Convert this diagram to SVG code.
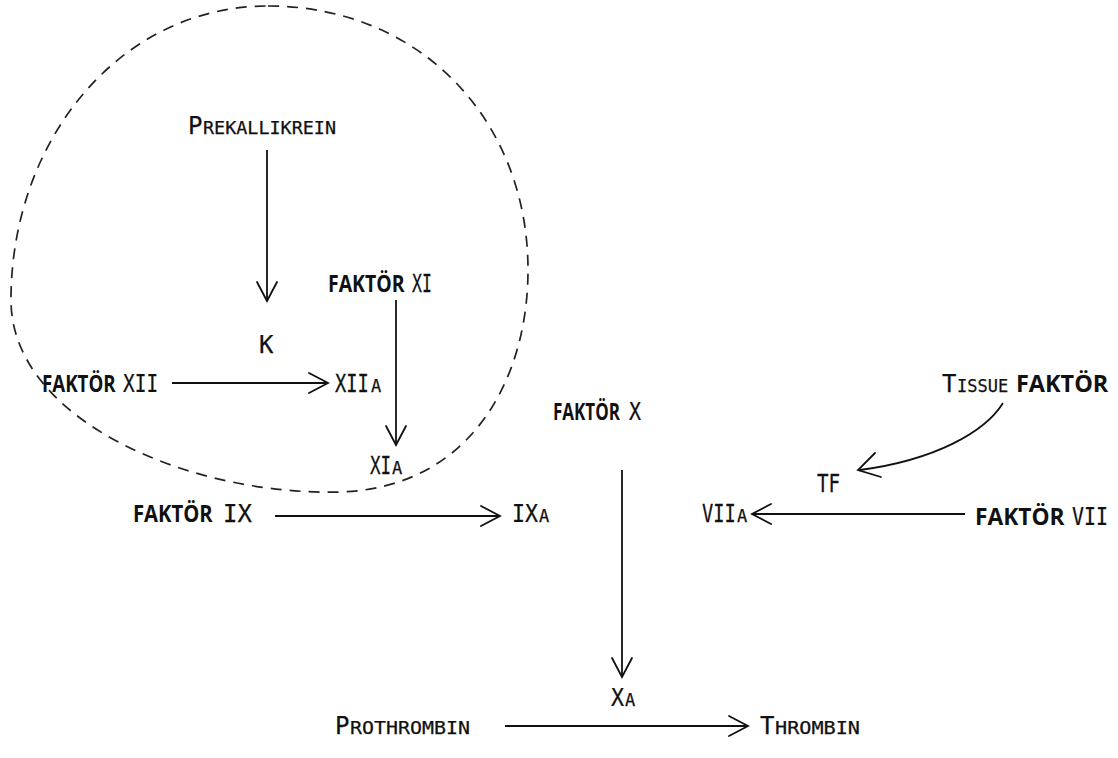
<svg xmlns="http://www.w3.org/2000/svg" width="1118" height="758" viewBox="0 0 1118 758">
<style>
.t{font-family:"DejaVu Sans Mono","Liberation Mono",monospace;font-size:24px;fill:#111;stroke:#111;stroke-width:0.25}
.sc{font-size:17px}
.b{font-family:"Open Sans","Noto Sans","DejaVu Sans",sans-serif;font-weight:bold;font-size:23px;fill:#111}
.ln{stroke:#111;stroke-width:1.8;fill:none}
.hd{stroke:#111;stroke-width:1.8;fill:none;stroke-linecap:round;stroke-linejoin:miter}
.dash{stroke:#222;stroke-width:1.7;fill:none;stroke-dasharray:11 8}
</style>
<rect width="1118" height="758" fill="#fff"/>
<g id="boundary">
<path class="dash" d="M268,6 C420,6 528,120 528,270 C528,380 470,488 340,492 C190,496 11,420 11,300 C11,140 120,6 268,6 Z"/>
</g>
<g id="connectors">
<line class="ln" x1="267" y1="150" x2="267" y2="300"/>
<polyline class="hd" points="257,282 267,301 277,282"/>
<line class="ln" x1="396" y1="300" x2="396" y2="444"/>
<polyline class="hd" points="386,426 396,445 406,426"/>
<line class="ln" x1="172" y1="383" x2="326" y2="383"/>
<polyline class="hd" points="309,373 328,383 309,393"/>
<line class="ln" x1="275" y1="516" x2="498" y2="516"/>
<polyline class="hd" points="481,506 500,516 481,526"/>
<line class="ln" x1="754" y1="514" x2="965" y2="514"/>
<polyline class="hd" points="771,504 752,514 771,524"/>
<line class="ln" x1="622" y1="470" x2="622" y2="676"/>
<polyline class="hd" points="612,658 622,677 632,658"/>
<line class="ln" x1="505" y1="726" x2="746" y2="726"/>
<polyline class="hd" points="729,716 748,726 729,736"/>
<path class="ln" d="M1003,403 C985,432 935,460 860,470"/>
<polyline class="hd" points="875,453 858,470 881,477"/>
</g>
<g id="prekallikrein"><text class="t" x="188" y="134">P</text><text class="t sc" x="203" y="134" textLength="133" lengthAdjust="spacingAndGlyphs">REKALLIKREIN</text></g>
<g id="k"><text class="t" x="259" y="353">K</text></g>
<g id="faktor-xi"><text class="b" transform="translate(328,292) scale(0.846,1)">FAKTÖR</text><text class="t" transform="translate(412,292) scale(0.69,1)">XI</text></g>
<g id="faktor-xii"><text class="b" transform="translate(42,392) scale(0.813,1)">FAKTÖR</text><text class="t" transform="translate(123,392) scale(0.81,1)">XII</text></g>
<g id="xiia"><text class="t" transform="translate(335,392) scale(0.78,1)">XII</text><text class="t sc" x="371" y="392">A</text></g>
<g id="xia"><text class="t" transform="translate(370,474) scale(0.73,1)">XI</text><text class="t sc" x="392" y="474">A</text></g>
<g id="faktor-x"><text class="b" transform="translate(553,420) scale(0.74,1)">FAKTÖR</text><text class="t" transform="translate(629,420) scale(0.83,1)">X</text></g>
<g id="tissue-faktor"><text class="t" x="942" y="392">T</text><text class="t sc" x="957" y="392">ISSUE</text><text class="b" transform="translate(1016,392) scale(1.02,1)">FAKTÖR</text></g>
<g id="tf"><text class="t" transform="translate(817,492) scale(0.8,1)">TF</text></g>
<g id="faktor-ix"><text class="b" transform="translate(133,522) scale(0.88,1)">FAKTÖR</text><text class="t" x="223" y="522">IX</text></g>
<g id="ixa"><text class="t" transform="translate(512,522) scale(0.9,1)">IX</text><text class="t sc" x="539" y="522">A</text></g>
<g id="viia"><text class="t" transform="translate(702,522) scale(0.78,1)">VII</text><text class="t sc" x="737" y="522">A</text></g>
<g id="faktor-vii"><text class="b" transform="translate(975,525) scale(0.99,1)">FAKTÖR</text><text class="t" transform="translate(1072,525) scale(0.83,1)">VII</text></g>
<g id="xa"><text class="t" transform="translate(611,706) scale(0.9,1)">X</text><text class="t sc" x="625" y="706">A</text></g>
<g id="prothrombin"><text class="t" x="335" y="734">P</text><text class="t sc" x="350" y="734" textLength="120" lengthAdjust="spacingAndGlyphs">ROTHROMBIN</text></g>
<g id="thrombin"><text class="t" x="760" y="734">T</text><text class="t sc" x="775" y="734" textLength="85" lengthAdjust="spacingAndGlyphs">HROMBIN</text></g>
</svg>
